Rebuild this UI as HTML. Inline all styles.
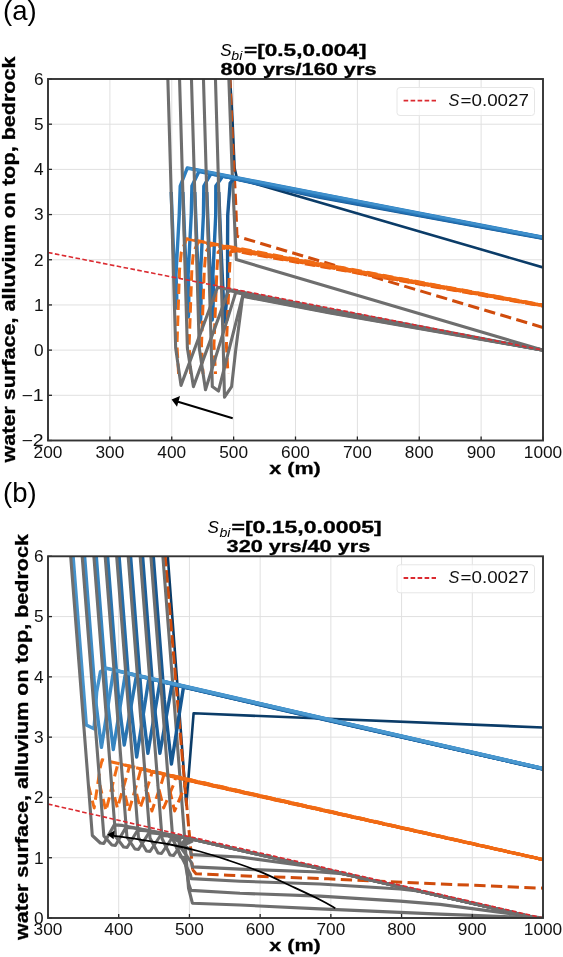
<!DOCTYPE html><html><head><meta charset="utf-8"><style>html,body{margin:0;padding:0;background:#fff;}svg{display:block;will-change:transform;}</style></head><body><svg width="563" height="957" viewBox="0 0 563 957" font-family='"Liberation Sans", sans-serif'>
<rect width="563" height="957" fill="#fff"/>
<line x1="109.88" y1="79" x2="109.88" y2="440.5" stroke="#e0e0e0" stroke-width="1"/>
<line x1="171.75" y1="79" x2="171.75" y2="440.5" stroke="#e0e0e0" stroke-width="1"/>
<line x1="233.62" y1="79" x2="233.62" y2="440.5" stroke="#e0e0e0" stroke-width="1"/>
<line x1="295.50" y1="79" x2="295.50" y2="440.5" stroke="#e0e0e0" stroke-width="1"/>
<line x1="357.38" y1="79" x2="357.38" y2="440.5" stroke="#e0e0e0" stroke-width="1"/>
<line x1="419.25" y1="79" x2="419.25" y2="440.5" stroke="#e0e0e0" stroke-width="1"/>
<line x1="481.12" y1="79" x2="481.12" y2="440.5" stroke="#e0e0e0" stroke-width="1"/>
<line x1="48" y1="395.31" x2="543" y2="395.31" stroke="#e0e0e0" stroke-width="1"/>
<line x1="48" y1="350.12" x2="543" y2="350.12" stroke="#e0e0e0" stroke-width="1"/>
<line x1="48" y1="304.94" x2="543" y2="304.94" stroke="#e0e0e0" stroke-width="1"/>
<line x1="48" y1="259.75" x2="543" y2="259.75" stroke="#e0e0e0" stroke-width="1"/>
<line x1="48" y1="214.56" x2="543" y2="214.56" stroke="#e0e0e0" stroke-width="1"/>
<line x1="48" y1="169.38" x2="543" y2="169.38" stroke="#e0e0e0" stroke-width="1"/>
<line x1="48" y1="124.19" x2="543" y2="124.19" stroke="#e0e0e0" stroke-width="1"/>
<clipPath id="ca"><rect x="48" y="79" width="495" height="361.5"/></clipPath>
<line x1="118.71" y1="556.3" x2="118.71" y2="918" stroke="#e0e0e0" stroke-width="1"/>
<line x1="189.43" y1="556.3" x2="189.43" y2="918" stroke="#e0e0e0" stroke-width="1"/>
<line x1="260.14" y1="556.3" x2="260.14" y2="918" stroke="#e0e0e0" stroke-width="1"/>
<line x1="330.86" y1="556.3" x2="330.86" y2="918" stroke="#e0e0e0" stroke-width="1"/>
<line x1="401.57" y1="556.3" x2="401.57" y2="918" stroke="#e0e0e0" stroke-width="1"/>
<line x1="472.29" y1="556.3" x2="472.29" y2="918" stroke="#e0e0e0" stroke-width="1"/>
<line x1="48" y1="857.72" x2="543" y2="857.72" stroke="#e0e0e0" stroke-width="1"/>
<line x1="48" y1="797.43" x2="543" y2="797.43" stroke="#e0e0e0" stroke-width="1"/>
<line x1="48" y1="737.15" x2="543" y2="737.15" stroke="#e0e0e0" stroke-width="1"/>
<line x1="48" y1="676.87" x2="543" y2="676.87" stroke="#e0e0e0" stroke-width="1"/>
<line x1="48" y1="616.58" x2="543" y2="616.58" stroke="#e0e0e0" stroke-width="1"/>
<clipPath id="cb"><rect x="48" y="556.3" width="495" height="361.70000000000005"/></clipPath>
<g clip-path="url(#ca)">
<polyline points="230.00,77.00 232.50,120.00 234.60,168.00 237.00,178.50 543.00,267.40" fill="none" stroke="#0b3c68" stroke-width="2.6" stroke-linejoin="round" stroke-linecap="butt" />
<polyline points="229.90,77.00 233.00,150.00 235.60,200.00 237.00,236.30 543.00,327.50" fill="none" stroke="#d04c0c" stroke-width="3.0" stroke-linejoin="round" stroke-linecap="butt" stroke-dasharray="11.3,5.4" />
<polyline points="228.80,77.00 232.00,168.00 236.30,259.60 543.00,350.10" fill="none" stroke="#6e6e6e" stroke-width="3.1" stroke-linejoin="round" stroke-linecap="butt" />
<polyline points="218.80,192.00 221.08,250.00 224.46,322.00 227.68,290.00 227.55,245.00 227.73,215.00 230.15,183.00 233.80,178.56 320.00,197.43 543.00,238.40" fill="none" stroke="#1a5a96" stroke-width="3.4" stroke-linejoin="round" stroke-linecap="butt" />
<polyline points="227.98,374.00 226.39,345.00 229.53,270.00 230.54,252.00 234.28,250.95 300.00,262.83 543.00,306.20" fill="none" stroke="#e85d0e" stroke-width="3.0" stroke-linejoin="round" stroke-linecap="butt" stroke-dasharray="10.5,5.5" stroke-dashoffset="10.4"/>
<polyline points="206.80,192.00 209.08,250.00 212.20,320.00 212.69,316.00 213.63,290.00 212.92,275.00 215.73,215.00 215.83,186.00 222.84,176.13 320.00,196.53 543.00,238.10" fill="none" stroke="#1f6bac" stroke-width="3.4" stroke-linejoin="round" stroke-linecap="butt" />
<polyline points="215.53,374.00 213.94,345.00 216.93,270.00 218.14,252.00 222.28,248.12 300.00,262.29 543.00,305.90" fill="none" stroke="#ec6110" stroke-width="3.0" stroke-linejoin="round" stroke-linecap="butt" stroke-dasharray="10.5,5.5" stroke-dashoffset="7.8"/>
<polyline points="194.80,192.00 197.08,250.00 200.26,322.00 200.75,318.00 201.18,290.00 200.47,275.00 203.43,215.00 203.83,186.00 210.84,173.80 320.00,195.63 543.00,237.80" fill="none" stroke="#2472b3" stroke-width="3.4" stroke-linejoin="round" stroke-linecap="butt" />
<polyline points="203.08,374.00 201.49,345.00 204.33,270.00 205.74,252.00 210.28,245.09 300.00,261.57 543.00,305.60" fill="none" stroke="#ee6512" stroke-width="3.0" stroke-linejoin="round" stroke-linecap="butt" stroke-dasharray="10.5,5.5" stroke-dashoffset="5.2"/>
<polyline points="182.90,192.00 185.18,250.00 188.22,317.00 188.71,313.00 188.83,290.00 188.12,275.00 191.23,215.00 191.93,186.00 198.94,171.48 320.00,194.73 543.00,237.50" fill="none" stroke="#2877b8" stroke-width="3.4" stroke-linejoin="round" stroke-linecap="butt" />
<polyline points="190.73,374.00 189.14,345.00 191.83,270.00 193.44,252.00 198.38,241.87 300.00,260.67 543.00,305.30" fill="none" stroke="#f06914" stroke-width="3.0" stroke-linejoin="round" stroke-linecap="butt" stroke-dasharray="10.5,5.5" stroke-dashoffset="2.6"/>
<polyline points="171.20,192.00 173.48,250.00 176.27,308.00 176.76,304.00 176.68,290.00 175.97,275.00 179.23,215.00 180.23,186.00 187.24,168.01 320.00,193.83 543.00,237.20" fill="none" stroke="#2c7dbe" stroke-width="3.4" stroke-linejoin="round" stroke-linecap="butt" />
<polyline points="178.58,374.00 176.99,345.00 179.53,270.00 181.34,252.00 186.68,238.70 300.00,259.77 543.00,305.00" fill="none" stroke="#f26d16" stroke-width="3.0" stroke-linejoin="round" stroke-linecap="butt" stroke-dasharray="10.5,5.5" stroke-dashoffset="0.0"/>
<polyline points="187.20,168.00 320.00,193.83 543.00,237.20" fill="none" stroke="#3f90cc" stroke-width="2.6" stroke-linejoin="round" stroke-linecap="butt" />
<polyline points="187.50,239.20 300.00,260.37 543.00,305.00" fill="none" stroke="#f06a14" stroke-width="2.6" stroke-linejoin="round" stroke-linecap="butt" />
<polyline points="215.40,77.00 223.27,348.00 224.50,397.20 231.60,386.60 235.70,350.00 242.70,296.30 330.00,313.10 543.00,350.10" fill="none" stroke="#6e6e6e" stroke-width="3.1" stroke-linejoin="round" stroke-linecap="butt" />
<polyline points="203.40,77.00 211.27,348.00 212.30,386.60 218.50,391.00 242.70,295.80 330.00,312.60 543.00,350.10" fill="none" stroke="#6e6e6e" stroke-width="3.1" stroke-linejoin="round" stroke-linecap="butt" />
<polyline points="191.40,77.00 199.27,348.00 205.50,389.80 235.70,292.60 330.00,311.60 543.00,350.10" fill="none" stroke="#6e6e6e" stroke-width="3.1" stroke-linejoin="round" stroke-linecap="butt" />
<polyline points="179.50,77.00 187.37,348.00 193.40,386.60 228.50,290.60 330.00,310.60 543.00,350.10" fill="none" stroke="#6e6e6e" stroke-width="3.1" stroke-linejoin="round" stroke-linecap="butt" />
<polyline points="167.80,77.00 175.67,348.00 181.00,385.40 217.60,287.30 330.00,309.60 543.00,350.10" fill="none" stroke="#6e6e6e" stroke-width="3.1" stroke-linejoin="round" stroke-linecap="butt" />
<line x1="48" y1="252.52" x2="543" y2="350.12" stroke="#db2a30" stroke-width="1.6" stroke-dasharray="4.6,2.4"/>
<line x1="232.7" y1="418.3" x2="178" y2="401.7" stroke="#000" stroke-width="2.0"/>
<polygon points="171.6,399.6 180.0,396.0 177.0,406.8" fill="#000"/>
</g>
<g clip-path="url(#cb)">
<polyline points="167.60,554.00 183.60,768.00 186.30,805.00 193.60,713.30 543.00,727.50" fill="none" stroke="#0b3c68" stroke-width="2.6" stroke-linejoin="round" stroke-linecap="butt" />
<polyline points="165.00,554.00 182.50,760.00 186.20,800.00 192.60,869.60" fill="none" stroke="#d04c0c" stroke-width="3.0" stroke-linejoin="round" stroke-linecap="butt" stroke-dasharray="12.5,3.8" />
<polyline points="192.60,869.60 196.00,873.80 228.00,875.30 328.00,878.80 440.00,883.90 543.00,888.20" fill="none" stroke="#d04c0c" stroke-width="3.0" stroke-linejoin="round" stroke-linecap="butt" stroke-dasharray="11.3,5.4" />
<polyline points="162.70,554.00 188.50,888.00 192.40,903.20 240.00,905.00 320.00,908.90 400.00,912.40 440.00,914.10 543.00,918.00" fill="none" stroke="#6e6e6e" stroke-width="3.1" stroke-linejoin="round" stroke-linecap="butt" />
<polyline points="153.10,554.00 164.33,700.00 171.43,764.00 183.23,688.69 184.93,687.35 300.00,714.09 543.00,769.10" fill="none" stroke="#175892" stroke-width="3.4" stroke-linejoin="round" stroke-linecap="butt" />
<polyline points="168.57,785.00 174.60,811.00 184.60,786.86 186.60,780.26 300.00,805.49 543.00,859.75" fill="none" stroke="#e85d0e" stroke-width="3.0" stroke-linejoin="round" stroke-linecap="butt" stroke-dasharray="10.5,5.5" stroke-dashoffset="11.9"/>
<polyline points="142.40,554.00 153.63,700.00 159.89,753.30 171.69,686.04 173.39,684.55 300.00,713.89 543.00,769.00" fill="none" stroke="#1b5f9b" stroke-width="3.4" stroke-linejoin="round" stroke-linecap="butt" />
<polyline points="157.87,785.00 163.66,808.00 173.66,784.39 175.66,777.59 300.00,805.34 543.00,859.70" fill="none" stroke="#ec6110" stroke-width="3.0" stroke-linejoin="round" stroke-linecap="butt" stroke-dasharray="10.5,5.5" stroke-dashoffset="10.2"/>
<polyline points="130.40,554.00 141.63,700.00 147.89,753.30 159.69,683.29 161.39,681.65 300.00,713.69 543.00,768.90" fill="none" stroke="#1f66a3" stroke-width="3.4" stroke-linejoin="round" stroke-linecap="butt" />
<polyline points="145.87,785.00 151.90,811.00 161.90,781.74 163.90,774.74 300.00,805.19 543.00,859.65" fill="none" stroke="#ed6311" stroke-width="3.0" stroke-linejoin="round" stroke-linecap="butt" stroke-dasharray="10.5,5.5" stroke-dashoffset="8.5"/>
<polyline points="118.90,554.00 130.13,700.00 136.68,757.00 148.48,680.72 150.18,678.93 300.00,713.49 543.00,768.80" fill="none" stroke="#246daa" stroke-width="3.4" stroke-linejoin="round" stroke-linecap="butt" />
<polyline points="134.37,785.00 140.16,808.00 150.16,779.09 152.16,771.89 300.00,805.04 543.00,859.60" fill="none" stroke="#ee6512" stroke-width="3.0" stroke-linejoin="round" stroke-linecap="butt" stroke-dasharray="10.5,5.5" stroke-dashoffset="6.8"/>
<polyline points="107.40,554.00 118.63,700.00 124.24,745.00 136.04,677.87 137.74,675.93 300.00,713.29 543.00,768.70" fill="none" stroke="#2974b0" stroke-width="3.4" stroke-linejoin="round" stroke-linecap="butt" />
<polyline points="122.87,785.00 128.90,811.00 138.90,776.55 140.90,769.15 300.00,804.89 543.00,859.55" fill="none" stroke="#ef6713" stroke-width="3.0" stroke-linejoin="round" stroke-linecap="butt" stroke-dasharray="10.5,5.5" stroke-dashoffset="5.1"/>
<polyline points="96.10,554.00 107.33,700.00 113.30,749.60 125.10,675.36 126.80,673.27 300.00,713.09 543.00,768.60" fill="none" stroke="#3584c0" stroke-width="3.4" stroke-linejoin="round" stroke-linecap="butt" />
<polyline points="111.57,785.00 117.36,808.00 127.36,773.95 129.36,766.35 300.00,804.74 543.00,859.50" fill="none" stroke="#f06914" stroke-width="3.0" stroke-linejoin="round" stroke-linecap="butt" stroke-dasharray="10.5,5.5" stroke-dashoffset="3.4"/>
<polyline points="84.40,554.00 95.63,700.00 101.43,747.40 113.23,672.63 114.93,670.40 300.00,712.89 543.00,768.50" fill="none" stroke="#3d8bc6" stroke-width="3.4" stroke-linejoin="round" stroke-linecap="butt" />
<polyline points="99.87,785.00 105.90,811.00 115.90,771.36 117.90,763.56 300.00,804.59 543.00,859.45" fill="none" stroke="#f16b15" stroke-width="3.0" stroke-linejoin="round" stroke-linecap="butt" stroke-dasharray="10.5,5.5" stroke-dashoffset="1.7"/>
<polyline points="72.90,554.00 86.28,725.00 94.00,728.80 96.70,692.00 100.40,671.70 106.30,668.27 543.00,768.40" fill="none" stroke="#4592cb" stroke-width="3.4" stroke-linejoin="round" stroke-linecap="butt" />
<polyline points="88.37,785.00 94.16,808.00 100.16,767.81 102.16,759.81 300.00,804.44 543.00,859.40" fill="none" stroke="#f26d16" stroke-width="3.0" stroke-linejoin="round" stroke-linecap="butt" stroke-dasharray="10.5,5.5" stroke-dashoffset="0.0"/>
<polyline points="150.00,771.10 300.00,805.44 543.00,859.60" fill="none" stroke="#f06a14" stroke-width="2.6" stroke-linejoin="round" stroke-linecap="butt" />
<polyline points="106.30,668.27 300.00,712.69 543.00,768.40" fill="none" stroke="#4a98cf" stroke-width="2.6" stroke-linejoin="round" stroke-linecap="butt" />
<polyline points="150.70,554.00 172.79,839.00 180.79,857.00 184.29,857.50 188.80,884.00 190.30,888.50 190.80,890.40 240.00,893.30 320.00,896.10 400.00,901.10 440.00,904.40 543.00,918.00" fill="none" stroke="#6e6e6e" stroke-width="3.1" stroke-linejoin="round" stroke-linecap="butt" />
<polyline points="140.00,554.00 162.05,838.50 170.05,855.00 173.55,855.50 184.05,840.90 192.05,841.45 177.00,848.00 190.30,874.10 191.30,878.60 240.00,881.20 320.00,884.00 400.00,889.00 420.00,891.20 543.00,919.50" fill="none" stroke="#6e6e6e" stroke-width="3.1" stroke-linejoin="round" stroke-linecap="butt" />
<polyline points="128.00,554.00 150.01,838.00 158.01,853.00 161.51,853.50 172.01,838.13 180.01,838.67 179.00,845.00 191.40,862.40 192.40,866.90 240.00,869.10 320.00,872.00 345.00,873.94 543.00,919.50" fill="none" stroke="#6e6e6e" stroke-width="3.1" stroke-linejoin="round" stroke-linecap="butt" />
<polyline points="116.50,554.00 138.47,837.50 146.47,851.00 149.97,851.50 160.47,835.48 168.47,836.02 181.50,843.00 190.30,850.10 191.30,854.60 240.00,857.00 317.00,867.50 543.00,919.50" fill="none" stroke="#6e6e6e" stroke-width="3.1" stroke-linejoin="round" stroke-linecap="butt" />
<polyline points="105.00,554.00 126.93,837.00 134.93,849.00 138.43,849.50 148.93,832.82 156.93,833.36 186.00,837.85 543.00,919.50" fill="none" stroke="#6e6e6e" stroke-width="3.1" stroke-linejoin="round" stroke-linecap="butt" />
<polyline points="93.70,554.00 115.59,836.50 123.59,847.00 127.09,847.50 137.59,830.21 145.59,830.76 186.00,837.85 543.00,919.50" fill="none" stroke="#6e6e6e" stroke-width="3.1" stroke-linejoin="round" stroke-linecap="butt" />
<polyline points="82.00,554.00 103.85,836.00 111.85,845.00 115.35,845.50 125.85,827.51 133.85,828.05 186.00,837.85 543.00,919.50" fill="none" stroke="#6e6e6e" stroke-width="3.1" stroke-linejoin="round" stroke-linecap="butt" />
<polyline points="70.50,554.00 92.31,835.50 100.31,843.00 103.81,843.50 114.31,824.86 122.31,825.40 186.00,837.85 543.00,919.50" fill="none" stroke="#6e6e6e" stroke-width="3.1" stroke-linejoin="round" stroke-linecap="butt" />
<line x1="48" y1="804.06" x2="543" y2="918.00" stroke="#db2a30" stroke-width="1.6" stroke-dasharray="4.6,2.4"/>
<path d="M335.3,908.2 C332.75,906.78 327.55,903.48 320,899.7 C312.45,895.92 300.00,890.17 290,885.5 C280.00,880.83 270.33,875.92 260,871.7 C249.67,867.48 238.00,863.57 228,860.2 C218.00,856.83 209.67,854.12 200,851.5 C190.33,848.88 180.00,846.48 170,844.5 C160.00,842.52 149.33,841.05 140,839.6 C130.67,838.15 118.33,836.43 114,835.8" fill="none" stroke="#000" stroke-width="1.8"/>
<polygon points="107.3,834.6 114.5,830.8 113.6,839.2" fill="#000"/>
</g>
<line x1="48.00" y1="440.5" x2="48.00" y2="436.5" stroke="#222" stroke-width="1.3"/>
<line x1="109.88" y1="440.5" x2="109.88" y2="436.5" stroke="#222" stroke-width="1.3"/>
<line x1="171.75" y1="440.5" x2="171.75" y2="436.5" stroke="#222" stroke-width="1.3"/>
<line x1="233.62" y1="440.5" x2="233.62" y2="436.5" stroke="#222" stroke-width="1.3"/>
<line x1="295.50" y1="440.5" x2="295.50" y2="436.5" stroke="#222" stroke-width="1.3"/>
<line x1="357.38" y1="440.5" x2="357.38" y2="436.5" stroke="#222" stroke-width="1.3"/>
<line x1="419.25" y1="440.5" x2="419.25" y2="436.5" stroke="#222" stroke-width="1.3"/>
<line x1="481.12" y1="440.5" x2="481.12" y2="436.5" stroke="#222" stroke-width="1.3"/>
<line x1="543.00" y1="440.5" x2="543.00" y2="436.5" stroke="#222" stroke-width="1.3"/>
<line x1="48" y1="440.50" x2="52" y2="440.50" stroke="#222" stroke-width="1.3"/>
<line x1="48" y1="395.31" x2="52" y2="395.31" stroke="#222" stroke-width="1.3"/>
<line x1="48" y1="350.12" x2="52" y2="350.12" stroke="#222" stroke-width="1.3"/>
<line x1="48" y1="304.94" x2="52" y2="304.94" stroke="#222" stroke-width="1.3"/>
<line x1="48" y1="259.75" x2="52" y2="259.75" stroke="#222" stroke-width="1.3"/>
<line x1="48" y1="214.56" x2="52" y2="214.56" stroke="#222" stroke-width="1.3"/>
<line x1="48" y1="169.38" x2="52" y2="169.38" stroke="#222" stroke-width="1.3"/>
<line x1="48" y1="124.19" x2="52" y2="124.19" stroke="#222" stroke-width="1.3"/>
<line x1="48" y1="79.00" x2="52" y2="79.00" stroke="#222" stroke-width="1.3"/>
<rect x="48" y="79" width="495" height="361.5" fill="none" stroke="#333" stroke-width="1.9"/>
<text x="48.00" y="457.90" font-size="16" text-anchor="middle" font-weight="normal" font-style="normal" textLength="28.8" lengthAdjust="spacingAndGlyphs" fill="#111">200</text>
<text x="109.88" y="457.90" font-size="16" text-anchor="middle" font-weight="normal" font-style="normal" textLength="28.8" lengthAdjust="spacingAndGlyphs" fill="#111">300</text>
<text x="171.75" y="457.90" font-size="16" text-anchor="middle" font-weight="normal" font-style="normal" textLength="28.8" lengthAdjust="spacingAndGlyphs" fill="#111">400</text>
<text x="233.62" y="457.90" font-size="16" text-anchor="middle" font-weight="normal" font-style="normal" textLength="28.8" lengthAdjust="spacingAndGlyphs" fill="#111">500</text>
<text x="295.50" y="457.90" font-size="16" text-anchor="middle" font-weight="normal" font-style="normal" textLength="28.8" lengthAdjust="spacingAndGlyphs" fill="#111">600</text>
<text x="357.38" y="457.90" font-size="16" text-anchor="middle" font-weight="normal" font-style="normal" textLength="28.8" lengthAdjust="spacingAndGlyphs" fill="#111">700</text>
<text x="419.25" y="457.90" font-size="16" text-anchor="middle" font-weight="normal" font-style="normal" textLength="28.8" lengthAdjust="spacingAndGlyphs" fill="#111">800</text>
<text x="481.12" y="457.90" font-size="16" text-anchor="middle" font-weight="normal" font-style="normal" textLength="28.8" lengthAdjust="spacingAndGlyphs" fill="#111">900</text>
<text x="543.00" y="457.90" font-size="16" text-anchor="middle" font-weight="normal" font-style="normal" textLength="38.4" lengthAdjust="spacingAndGlyphs" fill="#111">1000</text>
<text x="43.70" y="446.30" font-size="16" text-anchor="end" font-weight="normal" font-style="normal" textLength="22.2" lengthAdjust="spacingAndGlyphs" fill="#111">−2</text>
<text x="43.70" y="401.11" font-size="16" text-anchor="end" font-weight="normal" font-style="normal" textLength="22.2" lengthAdjust="spacingAndGlyphs" fill="#111">−1</text>
<text x="43.70" y="355.93" font-size="16" text-anchor="end" font-weight="normal" font-style="normal" textLength="9.6" lengthAdjust="spacingAndGlyphs" fill="#111">0</text>
<text x="43.70" y="310.74" font-size="16" text-anchor="end" font-weight="normal" font-style="normal" textLength="9.6" lengthAdjust="spacingAndGlyphs" fill="#111">1</text>
<text x="43.70" y="265.55" font-size="16" text-anchor="end" font-weight="normal" font-style="normal" textLength="9.6" lengthAdjust="spacingAndGlyphs" fill="#111">2</text>
<text x="43.70" y="220.36" font-size="16" text-anchor="end" font-weight="normal" font-style="normal" textLength="9.6" lengthAdjust="spacingAndGlyphs" fill="#111">3</text>
<text x="43.70" y="175.18" font-size="16" text-anchor="end" font-weight="normal" font-style="normal" textLength="9.6" lengthAdjust="spacingAndGlyphs" fill="#111">4</text>
<text x="43.70" y="129.99" font-size="16" text-anchor="end" font-weight="normal" font-style="normal" textLength="9.6" lengthAdjust="spacingAndGlyphs" fill="#111">5</text>
<text x="43.70" y="84.80" font-size="16" text-anchor="end" font-weight="normal" font-style="normal" textLength="9.6" lengthAdjust="spacingAndGlyphs" fill="#111">6</text>
<line x1="48.00" y1="918" x2="48.00" y2="914" stroke="#222" stroke-width="1.3"/>
<line x1="118.71" y1="918" x2="118.71" y2="914" stroke="#222" stroke-width="1.3"/>
<line x1="189.43" y1="918" x2="189.43" y2="914" stroke="#222" stroke-width="1.3"/>
<line x1="260.14" y1="918" x2="260.14" y2="914" stroke="#222" stroke-width="1.3"/>
<line x1="330.86" y1="918" x2="330.86" y2="914" stroke="#222" stroke-width="1.3"/>
<line x1="401.57" y1="918" x2="401.57" y2="914" stroke="#222" stroke-width="1.3"/>
<line x1="472.29" y1="918" x2="472.29" y2="914" stroke="#222" stroke-width="1.3"/>
<line x1="543.00" y1="918" x2="543.00" y2="914" stroke="#222" stroke-width="1.3"/>
<line x1="48" y1="918.00" x2="52" y2="918.00" stroke="#222" stroke-width="1.3"/>
<line x1="48" y1="857.72" x2="52" y2="857.72" stroke="#222" stroke-width="1.3"/>
<line x1="48" y1="797.43" x2="52" y2="797.43" stroke="#222" stroke-width="1.3"/>
<line x1="48" y1="737.15" x2="52" y2="737.15" stroke="#222" stroke-width="1.3"/>
<line x1="48" y1="676.87" x2="52" y2="676.87" stroke="#222" stroke-width="1.3"/>
<line x1="48" y1="616.58" x2="52" y2="616.58" stroke="#222" stroke-width="1.3"/>
<line x1="48" y1="556.30" x2="52" y2="556.30" stroke="#222" stroke-width="1.3"/>
<rect x="48" y="556.3" width="495" height="361.70000000000005" fill="none" stroke="#333" stroke-width="1.9"/>
<text x="48.00" y="935.40" font-size="16" text-anchor="middle" font-weight="normal" font-style="normal" textLength="28.8" lengthAdjust="spacingAndGlyphs" fill="#111">300</text>
<text x="118.71" y="935.40" font-size="16" text-anchor="middle" font-weight="normal" font-style="normal" textLength="28.8" lengthAdjust="spacingAndGlyphs" fill="#111">400</text>
<text x="189.43" y="935.40" font-size="16" text-anchor="middle" font-weight="normal" font-style="normal" textLength="28.8" lengthAdjust="spacingAndGlyphs" fill="#111">500</text>
<text x="260.14" y="935.40" font-size="16" text-anchor="middle" font-weight="normal" font-style="normal" textLength="28.8" lengthAdjust="spacingAndGlyphs" fill="#111">600</text>
<text x="330.86" y="935.40" font-size="16" text-anchor="middle" font-weight="normal" font-style="normal" textLength="28.8" lengthAdjust="spacingAndGlyphs" fill="#111">700</text>
<text x="401.57" y="935.40" font-size="16" text-anchor="middle" font-weight="normal" font-style="normal" textLength="28.8" lengthAdjust="spacingAndGlyphs" fill="#111">800</text>
<text x="472.29" y="935.40" font-size="16" text-anchor="middle" font-weight="normal" font-style="normal" textLength="28.8" lengthAdjust="spacingAndGlyphs" fill="#111">900</text>
<text x="543.00" y="935.40" font-size="16" text-anchor="middle" font-weight="normal" font-style="normal" textLength="38.4" lengthAdjust="spacingAndGlyphs" fill="#111">1000</text>
<text x="43.70" y="923.80" font-size="16" text-anchor="end" font-weight="normal" font-style="normal" textLength="9.6" lengthAdjust="spacingAndGlyphs" fill="#111">0</text>
<text x="43.70" y="863.52" font-size="16" text-anchor="end" font-weight="normal" font-style="normal" textLength="9.6" lengthAdjust="spacingAndGlyphs" fill="#111">1</text>
<text x="43.70" y="803.23" font-size="16" text-anchor="end" font-weight="normal" font-style="normal" textLength="9.6" lengthAdjust="spacingAndGlyphs" fill="#111">2</text>
<text x="43.70" y="742.95" font-size="16" text-anchor="end" font-weight="normal" font-style="normal" textLength="9.6" lengthAdjust="spacingAndGlyphs" fill="#111">3</text>
<text x="43.70" y="682.67" font-size="16" text-anchor="end" font-weight="normal" font-style="normal" textLength="9.6" lengthAdjust="spacingAndGlyphs" fill="#111">4</text>
<text x="43.70" y="622.38" font-size="16" text-anchor="end" font-weight="normal" font-style="normal" textLength="9.6" lengthAdjust="spacingAndGlyphs" fill="#111">5</text>
<text x="43.70" y="562.10" font-size="16" text-anchor="end" font-weight="normal" font-style="normal" textLength="9.6" lengthAdjust="spacingAndGlyphs" fill="#111">6</text>
<rect x="397" y="87.50" width="137.5" height="28" rx="3" fill="#fff" fill-opacity="0.8" stroke="#e6e6e6" stroke-width="1"/>
<line x1="403.6" y1="100.70" x2="436" y2="100.70" stroke="#db2a30" stroke-width="1.8" stroke-dasharray="4.6,2.4"/>
<text x="448.6" y="105.90" font-size="16.3" font-style="italic" fill="#111">S</text>
<text x="460.5" y="105.90" font-size="16.3" fill="#111" textLength="68.5" lengthAdjust="spacingAndGlyphs">=0.0027</text>
<rect x="397" y="564.80" width="137.5" height="28" rx="3" fill="#fff" fill-opacity="0.8" stroke="#e6e6e6" stroke-width="1"/>
<line x1="403.6" y1="578.00" x2="436" y2="578.00" stroke="#db2a30" stroke-width="1.8" stroke-dasharray="4.6,2.4"/>
<text x="448.6" y="583.20" font-size="16.3" font-style="italic" fill="#111">S</text>
<text x="460.5" y="583.20" font-size="16.3" fill="#111" textLength="68.5" lengthAdjust="spacingAndGlyphs">=0.0027</text>
<text x="220.2" y="56.00" font-size="17" font-style="italic" fill="#000">S</text>
<text x="231.3" y="59.60" font-size="12.5" font-style="italic" fill="#000" textLength="11" lengthAdjust="spacingAndGlyphs">bi</text>
<text x="244.0" y="56.00" font-size="16.5" font-weight="bold" fill="#000" stroke="#000" stroke-width="0.3" textLength="122.5" lengthAdjust="spacingAndGlyphs">=[0.5,0.004]</text>
<text x="220.60" y="74.70" font-size="16.5" text-anchor="start" font-weight="bold" font-style="normal" textLength="155.9" lengthAdjust="spacingAndGlyphs" fill="#000" stroke="#000" stroke-width="0.3">800 yrs/160 yrs</text>
<text x="207.5" y="533.30" font-size="17" font-style="italic" fill="#000">S</text>
<text x="219.5" y="536.90" font-size="12.5" font-style="italic" fill="#000" textLength="11" lengthAdjust="spacingAndGlyphs">bi</text>
<text x="231.5" y="533.30" font-size="16.5" font-weight="bold" fill="#000" stroke="#000" stroke-width="0.3" textLength="150.2" lengthAdjust="spacingAndGlyphs">=[0.15,0.0005]</text>
<text x="226.60" y="552.00" font-size="16.5" text-anchor="start" font-weight="bold" font-style="normal" textLength="143.7" lengthAdjust="spacingAndGlyphs" fill="#000" stroke="#000" stroke-width="0.3">320 yrs/40 yrs</text>
<text x="269.30" y="473.70" font-size="16.5" text-anchor="start" font-weight="bold" font-style="normal" textLength="51.5" lengthAdjust="spacingAndGlyphs" fill="#000" stroke="#000" stroke-width="0.3">x (m)</text>
<text x="269.30" y="951.20" font-size="16.5" text-anchor="start" font-weight="bold" font-style="normal" textLength="51.5" lengthAdjust="spacingAndGlyphs" fill="#000" stroke="#000" stroke-width="0.3">x (m)</text>
<text transform="translate(14.60,259.50) rotate(-90)" x="0" y="0" font-size="18.3" font-weight="bold" text-anchor="middle" textLength="406" lengthAdjust="spacingAndGlyphs" fill="#000" stroke="#000" stroke-width="0.3">water surface, alluvium on top, bedrock</text>
<text transform="translate(28.00,737.00) rotate(-90)" x="0" y="0" font-size="18.3" font-weight="bold" text-anchor="middle" textLength="406" lengthAdjust="spacingAndGlyphs" fill="#000" stroke="#000" stroke-width="0.3">water surface, alluvium on top, bedrock</text>
<text x="3" y="20.2" font-size="27.5" fill="#000">(a)</text>
<text x="3" y="502.4" font-size="27.5" fill="#000">(b)</text>
</svg></body></html>
